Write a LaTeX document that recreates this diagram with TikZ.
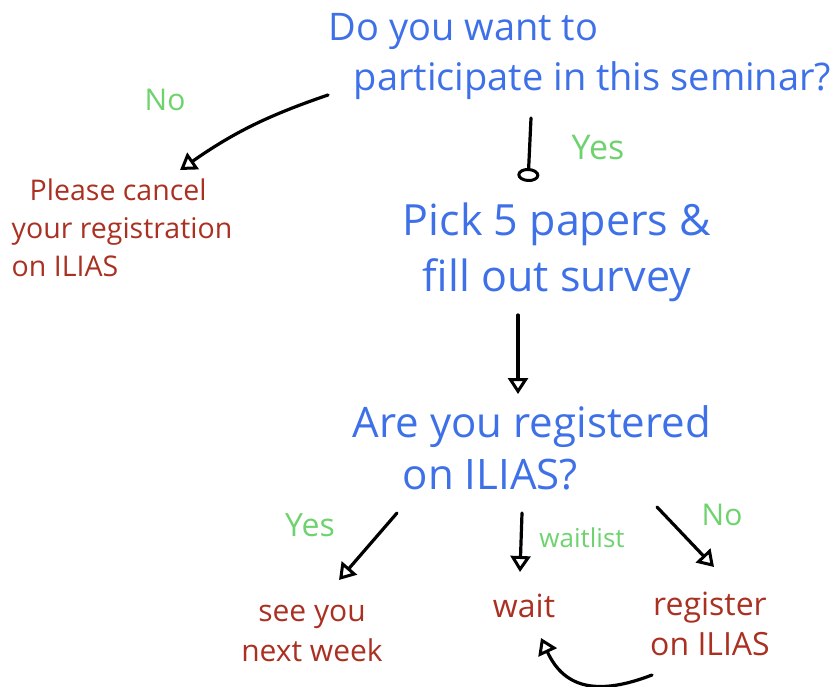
\documentclass[tikz,border=0pt]{standalone}
\usepackage{fontspec}
\setmainfont{Open Sans}
\usetikzlibrary{arrows.meta}
\definecolor{qblue}{RGB}{62,112,232}
\definecolor{ared}{RGB}{170,48,34}
\definecolor{lgreen}{RGB}{110,210,110}
\begin{document}
\begin{tikzpicture}[x=1pt,y=-1pt,
  question/.style={text=qblue,inner sep=0pt},
  answer/.style={text=ared,inner sep=0pt},
  choice/.style={text=lgreen,inner sep=0pt,font=\fontsize{30}{34}\selectfont},
  flow/.style={draw=black,line width=3.2pt,line cap=round,
    -{Triangle[open,length=16pt,width=20pt,line width=3pt]}},
  loopflow/.style={draw=black,line width=3.2pt,line cap=round,
    -{Ellipse[open,length=14pt,width=22pt,line width=3pt]}}]
\useasboundingbox (0,0) rectangle (840,687);

% questions
\node[question,align=left,font=\fontsize{38}{50}\selectfont] (q1) at (580,57)
  {Do you want to\\\hspace*{25pt}participate in this seminar?};
\node[question,align=center,font=\fontsize{43}{56}\selectfont] (q2) at (557,252)
  {Pick 5 papers \&\\fill out survey};
\node[question,align=left,font=\fontsize{42}{52}\selectfont] (q3) at (532,448)
  {Are you registered\\\hspace*{50pt}on ILIAS?};

% outcomes
\node[answer,align=left,font=\fontsize{28.5}{38}\selectfont] (cancel) at (122,228)
  {\hspace*{18pt}Please cancel\\your registration\\on ILIAS};
\node[answer,align=center,font=\fontsize{30}{40}\selectfont] (see) at (312,633)
  {see you\\next week};
\node[answer,font=\fontsize{32}{40}\selectfont] (wait) at (524,606) {wait};
\node[answer,align=center,font=\fontsize{32}{40}\selectfont] (reg) at (710,624)
  {register\\on ILIAS};

% connector ends
\coordinate (a1s) at (328,95);  \coordinate (a1e) at (180,170);
\coordinate (a2s) at (531,118); \coordinate (a2e) at (528,182);
\coordinate (a3s) at (518,315); \coordinate (a3e) at (518,394);
\coordinate (a4s) at (397,513); \coordinate (a4e) at (339,580);
\coordinate (a5s) at (522,513); \coordinate (a5e) at (520,572);
\coordinate (a6s) at (657,507); \coordinate (a6e) at (714,567);
\coordinate (a7s) at (652,675); \coordinate (a7e) at (541,638);

\draw[flow] (a1s) to[bend right=8] (a1e);
\draw[loopflow] (a2s) -- (a2e);
\draw[flow] (a3s) -- (a3e);
\draw[flow] (a4s) -- (a4e);
\draw[flow] (a5s) -- (a5e);
\draw[flow] (a6s) -- (a6e);
\draw[flow] (a7s) .. controls (600,695) and (565,690) .. (a7e);

% choice labels
\node[choice] (no1) at (165,100) {No};
\node[choice,font=\fontsize{34}{38}\selectfont] (yes1) at (598,148) {Yes};
\node[choice,font=\fontsize{32}{36}\selectfont] (yes2) at (310,525) {Yes};
\node[choice,font=\fontsize{26}{30}\selectfont] (wl) at (582,538) {waitlist};
\node[choice] (no2) at (722,515) {No};
\end{tikzpicture}
\end{document}
